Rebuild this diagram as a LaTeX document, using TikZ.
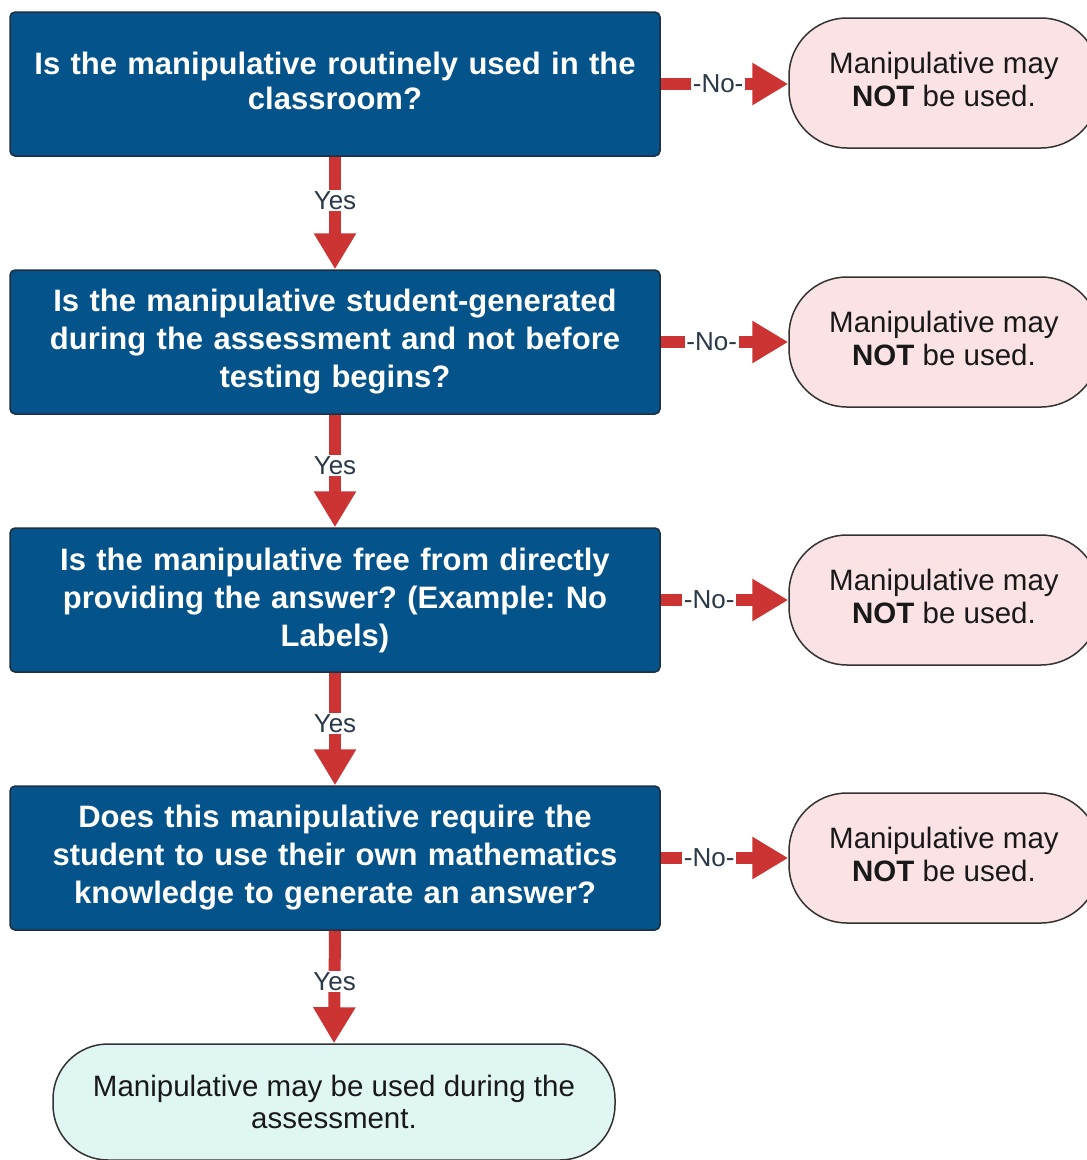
\documentclass[tikz,border=0pt]{standalone}
\usepackage{fontspec}
\setmainfont{Liberation Sans}
\usetikzlibrary{arrows.meta}
\frenchspacing
\definecolor{boxblue}{HTML}{04538A}
\definecolor{boxedge}{HTML}{1E2F3F}
\definecolor{pinkfill}{HTML}{FBE2E4}
\definecolor{cyanfill}{HTML}{DFF6F2}
\definecolor{arrred}{HTML}{CC3333}
\definecolor{labtext}{HTML}{2A3848}
\tikzset{
  qbox/.style={draw=boxedge, line width=1.5pt, fill=boxblue, rounded corners=5pt,
    minimum width=650pt, minimum height=144pt, text width=640pt, align=center,
    text=white, font=\fontsize{31}{38}\selectfont\bfseries, inner sep=0pt},
  nobox/.style={draw=black!80, line width=1.5pt, fill=pinkfill, rounded corners=58pt,
    minimum width=310pt, minimum height=130pt, align=center, text depth=7pt,
    font=\fontsize{29.5}{32.5}\selectfont, text=black!90, inner sep=0pt},
  endbox/.style={draw=black!80, line width=1.5pt, fill=cyanfill, rounded corners=55pt,
    minimum width=562pt, minimum height=116pt, align=center,
    font=\fontsize{29.5}{32.5}\selectfont, text=black!90, inner sep=0pt},
  flowarrow/.style={draw=arrred, line width=12pt, -{Triangle[length=36pt,width=40pt]}},
  lab/.style={fill=white, text=labtext, font=\fontsize{26}{28}\selectfont, inner sep=1.5pt}
}
\begin{document}
\begin{tikzpicture}[x=1pt,y=-1pt]
\useasboundingbox[fill=white] (0,0) rectangle (1087,1160);
\node[qbox, text depth=42pt, font=\fontsize{31}{35}\selectfont\bfseries] (b1) at (335,84) {Is the manipulative routinely used in the\\classroom?};
\node[qbox] (b2) at (335,342) {Is the manipulative student-generated\\during the assessment and not before\\testing begins?};
\node[qbox] (b3) at (335,600) {Is the manipulative free from directly\\providing the answer? (Example: No\\Labels)};
\node[qbox] (b4) at (335,858) {Does this manipulative require the\\student to use their own mathematics\\knowledge to generate an answer?};
\node[nobox] (p1) at (944,83) {Manipulative may\\\textbf{NOT} be used.};
\node[nobox] (p2) at (944,342) {Manipulative may\\\textbf{NOT} be used.};
\node[nobox] (p3) at (944,600) {Manipulative may\\\textbf{NOT} be used.};
\node[nobox] (p4) at (944,858) {Manipulative may\\\textbf{NOT} be used.};
\node[endbox] (e) at (334,1102) {Manipulative may be used during the\\assessment.};
\draw[flowarrow] (b1.south) -- (b2.north) node[lab, pos=0.39] (y1) {Yes};
\draw[flowarrow] (b2.south) -- (b3.north) node[lab, pos=0.45] (y2) {Yes};
\draw[flowarrow] (b3.south) -- (b4.north) node[lab, pos=0.45] (y3) {Yes};
\draw[flowarrow] (b4.south) -- (e.north) node[lab, pos=0.45] (y4) {Yes};
\draw[flowarrow] (b1.east) -- (b1.east -| p1.west) node[lab, pos=0.45] (n1) {-No-};
\draw[flowarrow] (b2.east) -- (b2.east -| p2.west) node[lab, pos=0.40] (n2) {-No-};
\draw[flowarrow] (b3.east) -- (b3.east -| p3.west) node[lab, pos=0.38] (n3) {-No-};
\draw[flowarrow] (b4.east) -- (b4.east -| p4.west) node[lab, pos=0.38] (n4) {-No-};
\end{tikzpicture}
\end{document}
